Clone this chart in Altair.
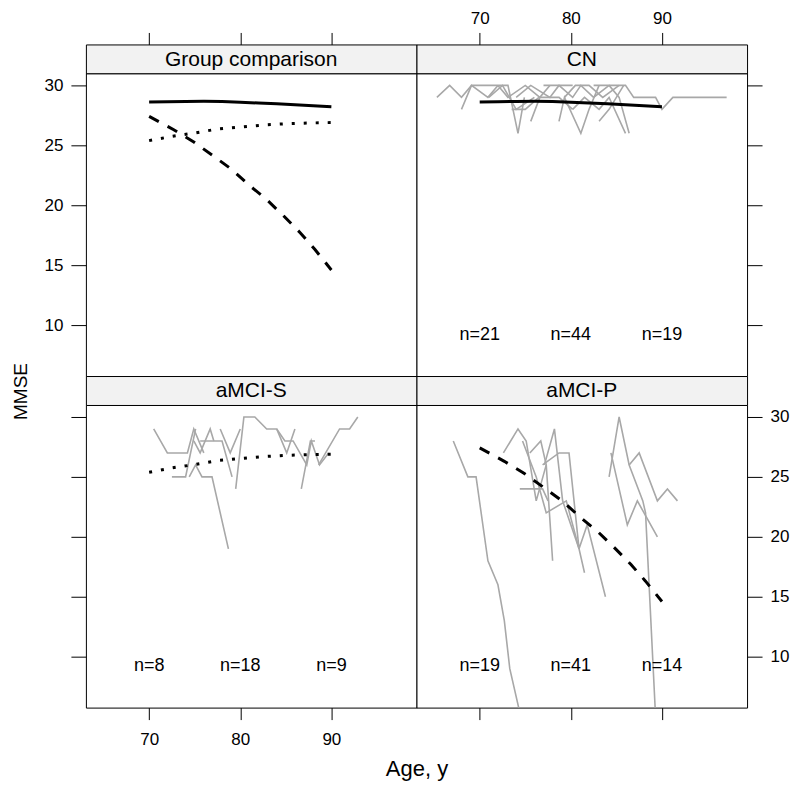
import altair as alt
import pandas as pd

FONT = "Liberation Sans"
GRAY = "#a8a8a8"
STRIP_FILL = "#f2f2f2"

X_DOMAIN = [63.06, 99.34]
Y_DOMAIN = [5.75, 31.0]
X_TICKS = [70, 80, 90]
Y_TICKS = [10, 15, 20, 25, 30]

PANEL_W = 331
PANEL_H = 303
STRIP_H = 29

# Fitted curves (group trajectories)
FIT_AGE_CN = [70, 72, 74, 76, 78, 80, 82, 84, 86, 88, 90]
FIT_MMSE_CN = [28.61, 28.64, 28.66, 28.67, 28.65, 28.6, 28.53, 28.46, 28.38, 28.3, 28.22]
FIT_AGE_S = [70, 72.5, 75, 77.5, 80, 82.5, 85, 87.5, 90]
FIT_MMSE_S = [25.39, 25.75, 26.03, 26.36, 26.53, 26.69, 26.8, 26.86, 26.9]
FIT_AGE_P = [70, 72.7, 74.9, 77.1, 79.1, 80.9, 82.9, 84.8, 86.6, 88.2, 90]
FIT_MMSE_P = [27.42, 26.3, 25.28, 24.08, 22.97, 21.72, 20.47, 19.08, 17.69, 16.3, 14.6]

# Individual trajectories: CN
CN_AGES = [
    [65.3, 66.7, 68.0, 69.1, 70.9, 72.0],
    [68.0, 69.1, 71.5, 73.1, 74.2, 74.9],
    [72.0, 73.1, 75.0, 76.6, 77.7],
    [75.6, 76.6, 78.7, 80.2],
    [74.0, 75.6, 77.7, 78.7, 80.2],
    [78.7, 79.3, 81.1, 82.0, 83.1],
    [77.0, 78.7, 80.2, 81.1, 82.5, 84.2],
    [80.2, 81.5, 83.1, 84.2, 86.0],
    [82.5, 84.2, 85.3, 86.4],
    [83.1, 84.2, 85.8],
    [84.2, 86.0, 86.9, 89.3, 90.0, 91.2, 97.1],
    [71.0, 72.5, 74.0, 76.0],
    [79.3, 80.5, 82.0, 83.5, 85.3],
    [73.5, 75.0, 76.5],
]
CN_MMSE = [
    [29, 30, 29, 30, 29, 30],
    [28, 30, 30, 30, 26, 29],
    [30, 29, 30, 29, 30],
    [27, 29, 29, 28],
    [29, 30, 29, 30, 30],
    [27, 29, 26, 28, 30],
    [30, 30, 29, 30, 29, 30],
    [28, 29, 28, 29, 26],
    [30, 30, 29, 26],
    [27, 28, 30],
    [30, 30, 29, 29, 28, 29, 29],
    [29, 30, 28, 29],
    [29, 30, 30, 29, 30],
    [28, 28, 29],
]

# Individual trajectories: aMCI-S
S_AGES = [
    [70.5, 72.0, 74.2, 74.9, 76.0],
    [72.5, 74.0, 75.1],
    [74.4, 75.1, 75.8, 76.9, 78.7],
    [74.9, 75.6, 76.7, 77.1],
    [75.6, 77.1, 78.0, 79.1],
    [77.8, 78.9, 80.0],
    [79.5, 80.4, 81.6, 82.9, 84.0, 85.1, 86.0],
    [84.0, 84.9, 85.8, 87.3, 87.8, 88.7, 89.7],
    [86.7, 87.7, 88.2],
    [88.6, 90.9, 92.0, 92.9],
]
S_MMSE = [
    [29, 27, 27, 29, 27],
    [25, 25, 29],
    [25, 26, 25, 25, 19],
    [28, 27, 29, 28],
    [28, 28, 28, 25],
    [29, 27, 29],
    [24, 30, 30, 29, 29, 27, 29],
    [29, 28, 28, 26, 28, 26, 27],
    [24, 28, 28],
    [26, 29, 29, 30],
]

# Individual trajectories: aMCI-P
P_AGES = [
    [67.1, 68.7, 69.6, 70.9, 72.0, 72.7, 73.3, 74.5],
    [72.6, 74.2, 75.1, 76.2, 77.3],
    [75.5, 76.7, 77.3, 78.0],
    [77.1, 78.2, 79.1, 80.9, 81.5],
    [74.4, 76.9, 77.5],
    [74.7, 76.2, 77.3, 79.5, 80.9],
    [76.9, 78.7, 79.8, 80.9, 81.8, 83.8],
    [84.2, 85.3, 86.4, 87.9, 88.2, 89.3],
    [84.4, 86.2, 87.3, 89.5],
    [86.4, 87.5, 89.5, 90.6, 91.7],
]
P_MMSE = [
    [28, 25, 25, 18, 16, 13, 9, 5],
    [27, 29, 28, 23, 26],
    [27, 28, 26, 18],
    [26, 29, 23, 19, 17],
    [24, 24, 23],
    [28, 25, 22, 23, 19],
    [26, 27, 27, 19, 21, 15],
    [25, 30, 26, 23, 22, 5],
    [27, 21, 23, 20],
    [26, 27, 23, 24, 23],
]

# sample sizes
N_AGES = [70, 80, 90]
N_Y = 9.2
N_CN = ["n=21", "n=44", "n=19"]
N_S = ["n=8", "n=18", "n=9"]
N_P = ["n=19", "n=41", "n=14"]


def xs():
    return alt.Scale(domain=X_DOMAIN, nice=False, zero=False)


def ys():
    return alt.Scale(domain=Y_DOMAIN, nice=False, zero=False)


def traj_df(ages, mmse):
    rows = []
    for i, (a_list, m_list) in enumerate(zip(ages, mmse)):
        for a, m in zip(a_list, m_list):
            rows.append({"id": i, "age": a, "mmse": m})
    return pd.DataFrame(rows)


def fit_df(ages, mmse):
    return pd.DataFrame({"age": ages, "mmse": mmse})


def x_axis(orient, labels, title=None):
    if title:
        kw = dict(title=title, titleX=PANEL_W, titleFontSize=22, titleFont=FONT,
                  titleFontWeight="normal", titleColor="black", titlePadding=11)
    else:
        kw = dict(title=None)
    pad = 12 if orient == "bottom" else 5
    return alt.Axis(orient=orient, values=X_TICKS, labels=labels, tickSize=12,
                    tickWidth=1, tickColor="black", domain=False, grid=False,
                    labelFontSize=17, labelPadding=pad, labelColor="black",
                    labelFont=FONT, **kw)


def y_axis(orient, labels, title=None):
    if title:
        kw = dict(title=title, titleY=318, titleFontSize=19, titleFont=FONT,
                  titleFontWeight="normal", titleColor="black", titlePadding=14)
    else:
        kw = dict(title=None)
    return alt.Axis(orient=orient, values=Y_TICKS, labels=labels, tickSize=15,
                    tickWidth=1, tickColor="black", domain=False, grid=False,
                    labelFontSize=17, labelPadding=8, labelColor="black",
                    labelFont=FONT, **kw)


def plot_panel(traj, fits, nlabels, xaxis, yaxis):
    X = lambda: alt.X("age:Q", scale=xs(), axis=xaxis)
    Y = lambda: alt.Y("mmse:Q", scale=ys(), axis=yaxis)
    layers = []
    if traj is not None:
        layers.append(
            alt.Chart(traj_df(*traj)).mark_line(color=GRAY, strokeWidth=1.6, clip=True)
            .encode(x=X(), y=Y(), detail="id:N")
        )
    for ages, mmse, dash in fits:
        kw = {}
        if dash:
            kw["strokeDash"] = dash
        layers.append(
            alt.Chart(fit_df(ages, mmse)).mark_line(color="black", strokeWidth=3,
                                                    clip=True, **kw)
            .encode(x=X(), y=Y())
        )
    if nlabels is not None:
        ndf = pd.DataFrame({"age": N_AGES, "mmse": [N_Y] * 3, "lab": nlabels})
        layers.append(
            alt.Chart(ndf).mark_text(font=FONT, fontSize=18, color="black")
            .encode(x=X(), y=Y(), text="lab:N")
        )
    return alt.layer(*layers).properties(
        width=PANEL_W, height=PANEL_H,
        view=alt.ViewBackground(fill="white", stroke="black", strokeWidth=1),
    )


def strip(name, xaxis):
    df = pd.DataFrame({"age": [(X_DOMAIN[0] + X_DOMAIN[1]) / 2], "name": [name]})
    return alt.Chart(df).mark_text(font=FONT, fontSize=21, color="black",
                                   baseline="middle").encode(
        x=alt.X("age:Q", scale=xs(), axis=xaxis),
        y=alt.value(STRIP_H / 2 + 1),
        text="name:N",
    ).properties(
        width=PANEL_W, height=STRIP_H,
        view=alt.ViewBackground(fill=STRIP_FILL, stroke="black", strokeWidth=1),
    )


FIT_CN = (FIT_AGE_CN, FIT_MMSE_CN, None)
FIT_S = (FIT_AGE_S, FIT_MMSE_S, [3, 9])
FIT_P = (FIT_AGE_P, FIT_MMSE_P, [11, 10])

items = [
    strip("Group comparison", x_axis("top", False)),
    strip("CN", x_axis("top", True)),
    plot_panel(None, [FIT_CN, FIT_S, FIT_P], None, None, y_axis("left", True, "MMSE")),
    plot_panel((CN_AGES, CN_MMSE), [FIT_CN], N_CN, None, y_axis("right", False)),
    strip("aMCI-S", None),
    strip("aMCI-P", None),
    plot_panel((S_AGES, S_MMSE), [FIT_S], N_S, x_axis("bottom", True, "Age, y"),
               y_axis("left", False)),
    plot_panel((P_AGES, P_MMSE), [FIT_P], N_P, x_axis("bottom", False),
               y_axis("right", True)),
]

chart = alt.concat(*items, columns=2, spacing=0, bounds="flush").properties(
    padding={"left": 2, "top": 0, "right": 2, "bottom": 0}
).configure(font=FONT)

chart.save("out.html", embed_options={"renderer": "svg", "actions": False})
